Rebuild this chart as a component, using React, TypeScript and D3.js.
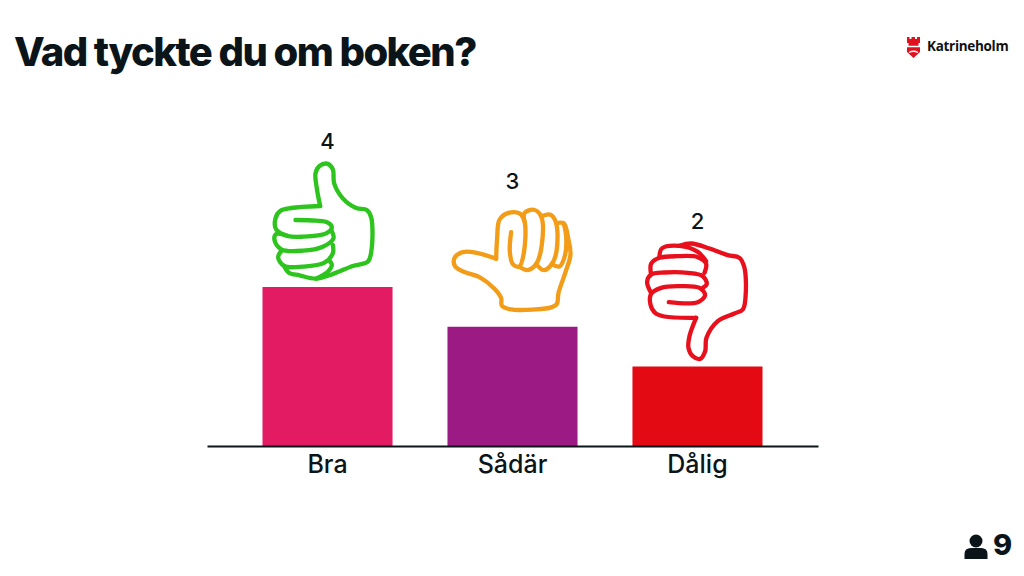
import React, { useEffect, useRef } from "react";
import * as d3 from "d3";

const categories = ["Bra", "Sådär", "Dålig"];
const votes = [4, 3, 2];
const barColors = ["#E31B63", "#9B1A84", "#E30A13"];
const handColors = ["#2DC41E", "#F39C18", "#E8101C"];
const titleText = "Vad tyckte du om boken?";
const respondents = 9;

type Pt = [number, number];

// hand outlines, 3x units, relative to the crop corner
const thumbUp: Pt[][] = [
  [[182, 228], [172, 175], [168, 130], [180, 108], [203, 101], [220, 118], [224, 160], [250, 205], [290, 234], [322, 240], [335, 262], [336, 360], [325, 395], [280, 408], [225, 430], [170, 446], [120, 436], [88, 428], [74, 408]],
  [[108, 270], [170, 272], [205, 278], [217, 292], [200, 310], [130, 320], [85, 318], [50, 298], [48, 265], [62, 243], [95, 234], [182, 228]],
  [[85, 318], [50, 312], [45, 330], [65, 358], [130, 362], [190, 350], [222, 325], [215, 300]],
  [[68, 360], [56, 382], [74, 408], [130, 410], [195, 398], [220, 370], [220, 345]],
  [[170, 446], [205, 425], [217, 405], [208, 390]],
];
const thumbSide: Pt[][] = [
  [[155, 282], [100, 265], [55, 262], [30, 280], [32, 305], [60, 322], [105, 337], [150, 372], [170, 400], [172, 422], [200, 434], [270, 434], [320, 428], [337, 418], [342, 385], [362, 325], [378, 270], [372, 225], [358, 176], [335, 175]],
  [[200, 202], [196, 260], [205, 298], [224, 306], [238, 265], [240, 170], [225, 146], [190, 145], [165, 165], [158, 220], [155, 282]],
  [[240, 170], [240, 145], [268, 135], [290, 155], [292, 240], [275, 298], [250, 316], [224, 306]],
  [[290, 155], [318, 150], [335, 175], [336, 260], [322, 298], [298, 316], [275, 298]],
  [[358, 176], [365, 215], [362, 270], [345, 305], [322, 298]],
];
const thumbDown: Pt[][] = [
  [[185, 340], [165, 395], [162, 430], [175, 455], [197, 463], [212, 440], [216, 400], [250, 350], [300, 327], [325, 315], [333, 280], [330, 190], [315, 160], [280, 152], [225, 132], [170, 117], [135, 124]],
  [[103, 293], [190, 293], [212, 272], [195, 250], [130, 245], [80, 250], [50, 268], [48, 300], [62, 325], [90, 336], [185, 340]],
  [[48, 262], [38, 232], [50, 210], [90, 204], [160, 205], [205, 215], [217, 238], [205, 250]],
  [[50, 210], [50, 178], [75, 160], [130, 155], [190, 158], [215, 178], [210, 205]],
  [[75, 158], [82, 132], [135, 124], [190, 142], [215, 170]],
];
const hands = [thumbUp, thumbSide, thumbDown];
// where the 3x crop sits relative to the top-left of each bar
const handOffsets: Pt[] = [[-3, -157], [-3, -162], [2, -162]];

function App() {
  const svgRef = useRef<SVGSVGElement>(null);
  const width = 1024;
  const height = 576;

  useEffect(() => {
    const svg = d3.select(svgRef.current);
    svg.selectAll("*").remove();

    const ink = "#0B1519";
    const font = "Inter, 'Noto Sans', sans-serif";

    const x = d3
      .scaleBand()
      .domain(categories)
      .range([207, 818])
      .paddingInner(0.297)
      .paddingOuter(0.3);
    const y = d3.scaleLinear().domain([0, 4]).range([446, 287]);

    svg.append("rect").attr("width", width).attr("height", height).attr("fill", "#fff");

    // title
    svg
      .append("text")
      .attr("x", 14)
      .attr("y", 66)
      .text(titleText)
      .style("font-family", font)
      .style("font-size", "40px")
      .style("font-weight", 800)
      .style("letter-spacing", "-1.55px")
      .attr("fill", ink);

    // bars
    svg
      .selectAll("rect.bar")
      .data(votes)
      .join("rect")
      .attr("class", "bar")
      .attr("x", (d, i) => x(categories[i]))
      .attr("y", (d) => y(d))
      .attr("width", x.bandwidth())
      .attr("height", (d) => y(0) - y(d))
      .attr("fill", (d, i) => barColors[i]);

    // x axis
    const axis = svg
      .append("g")
      .attr("transform", `translate(0,${y(0)})`)
      .call(d3.axisBottom(x).tickSize(0).tickPadding(9));
    axis.select(".domain").attr("stroke", ink).attr("stroke-width", 2);
    axis
      .selectAll("text")
      .style("font-family", font)
      .style("font-size", "25px")
      .style("font-weight", 500)
      .attr("fill", ink);

    // hand icons
    const line = d3.line().curve(d3.curveCatmullRom.alpha(0.5));
    votes.forEach((v, i) => {
      const [ox, oy] = handOffsets[i];
      const g = svg
        .append("g")
        .attr("transform", `translate(${x(categories[i])! + ox},${y(v) + oy}) scale(${1 / 3})`);
      g.selectAll("path")
        .data(hands[i])
        .join("path")
        .attr("d", (d) => line(d))
        .attr("fill", "none")
        .attr("stroke", handColors[i])
        .attr("stroke-width", 13)
        .attr("stroke-linecap", "round")
        .attr("stroke-linejoin", "round");
    });

    // value labels above the hands
    svg
      .selectAll("text.value")
      .data(votes)
      .join("text")
      .attr("class", "value")
      .attr("x", (d, i) => x(categories[i])! + x.bandwidth() / 2)
      .attr("y", (d) => y(d) - 138)
      .attr("text-anchor", "middle")
      .text((d) => d)
      .style("font-family", font)
      .style("font-size", "22px")
      .style("font-weight", 500)
      .attr("fill", ink);

    // logo
    const logo = svg.append("g").attr("transform", "translate(907,37)");
    logo
      .append("path")
      .attr(
        "d",
        "M0 0H2.5V2H4.5V0H8V2H10V0H13V6H11.5V10H13V15L6.5 21L0 15V10H1.5V6H0Z"
      )
      .attr("fill", "#E0121F");
    logo
      .append("path")
      .attr("d", "M0 9.5H13M2 15.5Q6.5 13 11 15.5")
      .attr("stroke", "#fff")
      .attr("stroke-width", 1.4)
      .attr("fill", "none");
    svg
      .append("text")
      .attr("x", 927)
      .attr("y", 51)
      .text("Katrineholm")
      .style("font-family", "'Open Sans', sans-serif")
      .style("font-size", "13.5px")
      .style("font-weight", 700)
      .style("letter-spacing", "-0.3px")
      .attr("fill", "#111");

    // respondent count
    const person = svg.append("g").attr("transform", "translate(976,547)").attr("fill", ink);
    person.append("circle").attr("cx", 0).attr("cy", -6).attr("r", 6.5);
    person
      .append("path")
      .attr("d", "M-11.5 12V7Q-11.5 1 -5 1H5Q11.5 1 11.5 7V12Z");
    svg
      .append("text")
      .attr("x", 993)
      .attr("y", 555)
      .text(respondents)
      .style("font-family", font)
      .style("font-size", "29px")
      .style("font-weight", 800)
      .attr("fill", ink);
  }, []);

  return (
    <svg
      ref={svgRef}
      width={width}
      height={height}
      style={{ position: "absolute", left: 0, top: 0 }}
    ></svg>
  );
}

export default App;
